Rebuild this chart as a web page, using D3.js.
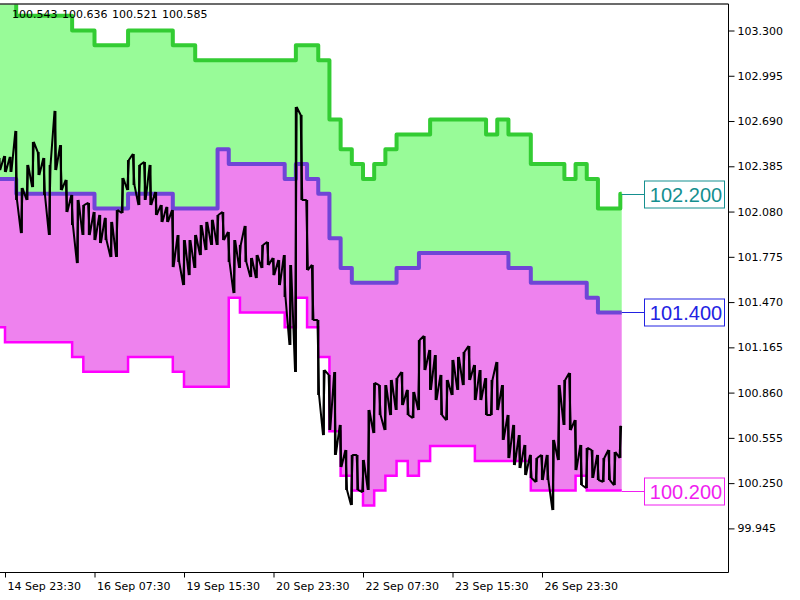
<!DOCTYPE html>
<html>
<head>
<meta charset="utf-8">
<script src="https://cdn.jsdelivr.net/npm/d3@7/dist/d3.min.js"></script>
<style>
  body { margin: 0; background: #fff; }
  svg { display: block; font-family: "DejaVu Sans", sans-serif; font-size: 11px; }
</style>
</head>
<body>
<div id="chart"></div>
<script>
const width = 800
const height = 600
const plot = { left: 0, top: 4, right: 728, bottom: 572 }

// x runs in trading hours from 14 Sep 23:30 (weekends are skipped like in the terminal)
const timeTicks = [0, 32, 64, 96, 128, 160, 192]
const timeLabels = ["14 Sep 23:30", "16 Sep 07:30", "19 Sep 15:30", "20 Sep 23:30",
    "22 Sep 07:30", "23 Sep 15:30", "26 Sep 23:30"]
const priceTicks = [99.945, 100.250, 100.555, 100.860, 101.165, 101.470,
    101.775, 102.080, 102.385, 102.690, 102.995, 103.300]

// envelope levels, one value per 4 hour block, first block starts at hour -4
const blockStart = -4
const blockHours = 4
const upperBand = [
    103.5, 103.5, 103.4, 103.4, 103.4, 103.4, 103.4, 103.3,
    103.3, 103.2, 103.2, 103.2, 103.3, 103.3, 103.3, 103.3,
    103.2, 103.2, 103.1, 103.1, 103.1, 103.1, 103.1, 103.1,
    103.1, 103.1, 103.1, 103.2, 103.2, 103.1, 102.7, 102.5,
    102.4, 102.3, 102.4, 102.5, 102.6, 102.6, 102.6, 102.7,
    102.7, 102.7, 102.7, 102.7, 102.6, 102.7, 102.6, 102.6,
    102.4, 102.4, 102.4, 102.3, 102.4, 102.3, 102.1, 102.1,
    102.2]
const middleBand = [
    102.3, 102.3, 102.2, 102.2, 102.2, 102.2, 102.2, 102.2,
    102.2, 102.1, 102.1, 102.1, 102.2, 102.2, 102.2, 102.2,
    102.1, 102.1, 102.1, 102.1, 102.5, 102.4, 102.4, 102.4,
    102.4, 102.4, 102.3, 102.4, 102.3, 102.2, 101.9, 101.7,
    101.6, 101.6, 101.6, 101.6, 101.7, 101.7, 101.8, 101.8,
    101.8, 101.8, 101.8, 101.8, 101.8, 101.8, 101.7, 101.7,
    101.6, 101.6, 101.6, 101.6, 101.6, 101.5, 101.4, 101.4,
    101.4]
const lowerBand = [
    101.3, 101.2, 101.2, 101.2, 101.2, 101.2, 101.2, 101.1,
    101.0, 101.0, 101.0, 101.0, 101.1, 101.1, 101.1, 101.1,
    101.0, 100.9, 100.9, 100.9, 100.9, 101.5, 101.4, 101.4,
    101.4, 101.4, 101.3, 101.5, 101.3, 101.1, 100.6, 100.3,
    100.2, 100.1, 100.2, 100.3, 100.4, 100.3, 100.4, 100.5,
    100.5, 100.5, 100.5, 100.4, 100.4, 100.4, 100.4, 100.4,
    100.2, 100.2, 100.2, 100.2, 100.3, 100.2, 100.2, 100.2,
    100.2]
const lastHour = 220.5

// price range of every 2 hour stretch, first one starts at hour -2
const barStart = -2
const barHours = 2
const barHigh = [
    102.441, 102.454, 102.448, 102.623, 102.239, 102.394, 102.549, 102.481,
    102.441, 102.394, 102.758, 102.528, 102.293, 102.192, 102.158, 102.124,
    102.138, 102.077, 102.057, 102.037, 102.010, 102.090, 102.306, 102.427,
    102.468, 102.394, 102.414, 102.394, 102.212, 102.124, 102.111, 102.090,
    101.922, 101.888, 101.888, 101.922, 101.989, 102.010, 102.024, 102.057,
    102.077, 101.942, 101.888, 101.855, 101.983, 101.767, 101.787, 101.855,
    101.875, 101.767, 101.753, 101.787, 101.720, 102.785, 102.731, 102.158,
    101.720, 101.349, 101.012, 100.979, 100.999, 100.642, 100.473, 100.440,
    100.440, 100.406, 100.743, 100.925, 100.911, 100.911, 100.945, 100.958,
    100.999, 100.878, 100.864, 101.214, 101.241, 101.147, 101.113, 100.979,
    100.945, 101.080, 101.100, 101.134, 101.174, 101.046, 101.012, 100.958,
    100.945, 101.066, 100.911, 100.709, 100.642, 100.574, 100.507, 100.440,
    100.419, 100.440, 100.440, 100.541, 100.911, 100.945, 100.992, 100.675,
    100.507, 100.487, 100.473, 100.440, 100.419, 100.473, 100.460, 100.636]
const barLow = [
    102.360, 102.347, 102.347, 102.158, 101.935, 102.158, 102.245, 102.326,
    102.192, 101.922, 102.360, 102.225, 102.077, 101.989, 101.733, 101.922,
    101.922, 101.888, 101.868, 101.888, 101.774, 101.774, 102.070, 102.225,
    102.259, 102.124, 102.158, 102.124, 102.057, 102.010, 102.010, 101.706,
    101.740, 101.585, 101.652, 101.700, 101.787, 101.821, 101.855, 101.855,
    101.888, 101.740, 101.531, 101.700, 101.740, 101.639, 101.632, 101.700,
    101.720, 101.652, 101.585, 101.504, 101.181, 100.999, 102.158, 101.686,
    101.349, 100.844, 100.574, 100.608, 100.440, 100.359, 100.204, 100.103,
    100.204, 100.190, 100.204, 100.588, 100.709, 100.608, 100.709, 100.743,
    100.776, 100.709, 100.689, 100.743, 101.012, 100.878, 100.810, 100.709,
    100.675, 100.844, 100.878, 100.911, 100.945, 100.810, 100.810, 100.709,
    100.709, 100.743, 100.541, 100.419, 100.372, 100.352, 100.305, 100.285,
    100.258, 100.271, 100.271, 100.069, 100.406, 100.642, 100.608, 100.338,
    100.237, 100.217, 100.285, 100.271, 100.258, 100.271, 100.237, 100.420]

const levelValues = [102.2, 101.4, 100.2]
const levelLabels = ["102.200", "101.400", "100.200"]
// open, high, low, close of the last bar shown in the corner
const lastBar = ["100.543", "100.636", "100.521", "100.585"]

const levelColors = ["#158f8f", "#2222e2", "#f01ef0"]

x = d3.scaleLinear([0, 192], [5, 542])
y = d3.scaleLinear([99.945, 103.3], [528.4, 30.5])

const svg = d3.select("#chart").append("svg")
    .attr("width", width)
    .attr("height", height)

svg.append("clipPath").attr("id", "plot-clip")
    .append("rect")
    .attr("x", plot.left).attr("y", plot.top)
    .attr("width", plot.right - plot.left).attr("height", plot.bottom - plot.top)

const blocks = upperBand.map((v, i) => ({
    t: blockStart + i * blockHours, up: v, mid: middleBand[i], low: lowerBand[i]
}))
blocks.push({ ...blocks[blocks.length - 1], t: lastHour })

const g = svg.append("g").attr("clip-path", "url(#plot-clip)")

// filled channels
g.append("path")
    .attr("fill", "#98fb98")
    .attr("d", d3.area().curve(d3.curveStepAfter)
        .x(d => x(d.t)).y0(d => y(d.mid)).y1(d => y(d.up))(blocks))
g.append("path")
    .attr("fill", "#ee82ee")
    .attr("d", d3.area().curve(d3.curveStepAfter)
        .x(d => x(d.t)).y0(d => y(d.low)).y1(d => y(d.mid))(blocks))

const step = key => d3.line().curve(d3.curveStepAfter).x(d => x(d.t)).y(d => y(d[key]))(blocks)

g.append("path").attr("fill", "none").attr("stroke", "#33cc33").attr("stroke-width", 4)
    .attr("stroke-linejoin", "round").attr("d", step("up"))
g.append("path").attr("fill", "none").attr("stroke", "#6f45d6").attr("stroke-width", 4)
    .attr("stroke-linejoin", "round").attr("d", step("mid"))
g.append("path").attr("fill", "none").attr("stroke", "#ff00ff").attr("stroke-width", 2.5)
    .attr("d", step("low"))

// price: each 2h stretch drawn as a bar between its low and high, joined by a swing line
const bars = barHigh.map((h, i) => ({ t: barStart + i * barHours, hi: h, lo: barLow[i] }))
const pts = []
bars.forEach((b, i) => {
    const next = bars[i + 1]
    const rising = next ? (next.hi + next.lo) > (b.hi + b.lo) : true
    pts.push([x(b.t) - 0.8, y(rising ? b.lo : b.hi)])
    pts.push([x(b.t) + 0.8, y(rising ? b.hi : b.lo)])
})
g.append("path")
    .attr("fill", "none")
    .attr("stroke", "#000")
    .attr("stroke-width", 2)
    .attr("stroke-linejoin", "bevel")
    .attr("d", d3.line()(pts))
g.append("g")
    .attr("stroke", "#000")
    .attr("stroke-width", 2.2)
    .selectAll("line")
    .data(bars)
    .join("line")
    .attr("x1", d => x(d.t)).attr("x2", d => x(d.t))
    .attr("y1", d => y(d.hi)).attr("y2", d => y(d.lo))

// frame
svg.append("line").attr("x1", plot.left).attr("x2", plot.right + 0.5)
    .attr("y1", plot.top).attr("y2", plot.top).attr("stroke", "#3a3a3a").attr("stroke-width", 1.5)
svg.append("line").attr("x1", plot.right + 0.5).attr("x2", plot.right + 0.5)
    .attr("y1", plot.top).attr("y2", plot.bottom + 0.5).attr("stroke", "#000")
svg.append("line").attr("x1", plot.left).attr("x2", plot.right + 0.5)
    .attr("y1", plot.bottom + 0.5).attr("y2", plot.bottom + 0.5).attr("stroke", "#000")

// price scale on the right
svg.append("g")
    .attr("transform", `translate(${plot.right + 0.5},0)`)
    .call(d3.axisRight(y).tickValues(priceTicks).tickFormat(d3.format(".3f")).tickSize(6).tickPadding(3))
    .call(g => g.select(".domain").remove())
    .call(g => g.selectAll("text").attr("fill", "#000").style("font-family", "DejaVu Sans").style("font-size", "11px"))
    .call(g => g.selectAll("line").attr("stroke", "#000"))

// time scale
svg.append("g")
    .attr("transform", `translate(0,${plot.bottom + 0.5})`)
    .call(d3.axisBottom(x).tickValues(timeTicks).tickFormat((d, i) => timeLabels[i]).tickSize(5))
    .call(g => g.select(".domain").remove())
    .call(g => g.selectAll("line").attr("stroke", "#000"))
    .call(g => g.selectAll("text")
        .attr("fill", "#000")
        .attr("text-anchor", "start")
        .attr("x", 2)
        .attr("y", 10)
        .style("font-family", "DejaVu Sans").style("font-size", "11px"))

// level labels at the right end
const boxLeft = 644, boxWidth = 80, boxHeight = 27
levelValues.forEach((v, i) => {
    const yy = Math.round(y(v)) + 0.5
    svg.append("line")
        .attr("x1", x(lastHour)).attr("x2", boxLeft)
        .attr("y1", yy).attr("y2", yy)
        .attr("stroke", levelColors[i])
    svg.append("rect")
        .attr("x", boxLeft + 0.5).attr("y", yy - boxHeight / 2)
        .attr("width", boxWidth).attr("height", boxHeight)
        .attr("fill", "#fff").attr("stroke", levelColors[i])
    svg.append("text")
        .attr("x", boxLeft + 42).attr("y", yy)
        .attr("dy", "0.36em")
        .attr("text-anchor", "middle")
        .attr("fill", levelColors[i])
        .style("font-family", "Liberation Sans")
        .style("font-size", "20px")
        .text(levelLabels[i])
})

// last bar values, spaced like the terminal prints them
svg.append("g")
    .selectAll("text")
    .data(lastBar)
    .join("text")
    .attr("x", (d, i) => 12 + i * 50)
    .attr("y", 18)
    .attr("fill", "#000")
    .style("font-family", "DejaVu Sans")
    .style("font-size", "11px")
    .text(d => d)
</script>
</body>
</html>
